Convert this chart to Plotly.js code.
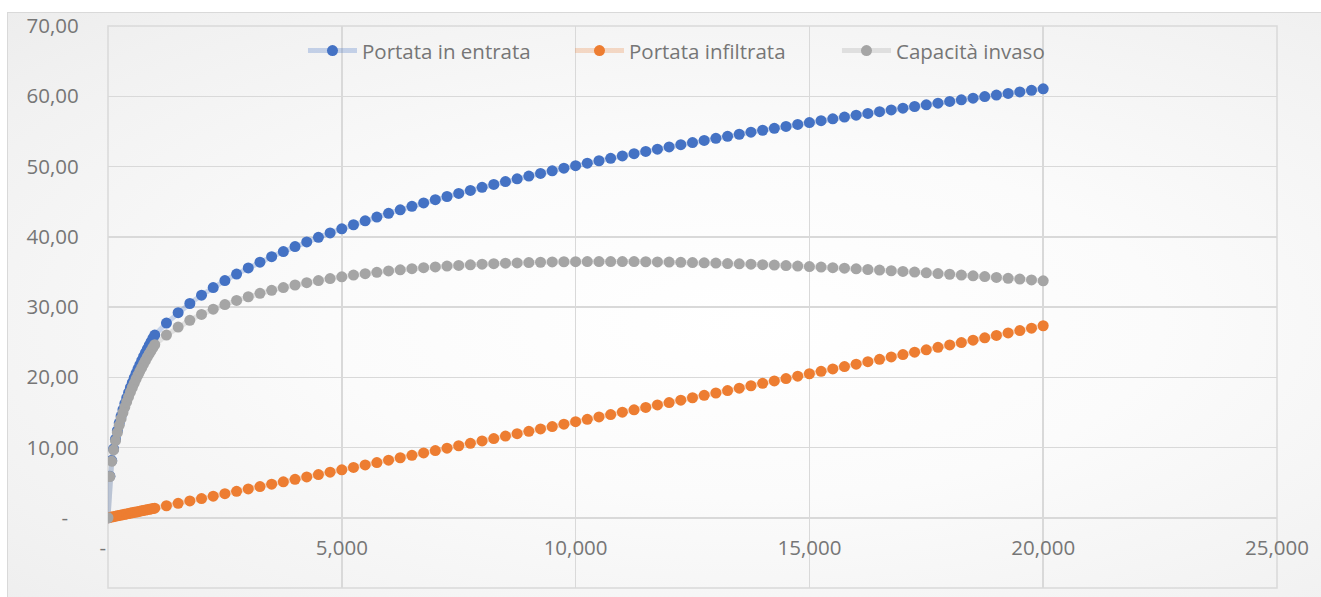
<!DOCTYPE html>
<html>
<head>
<meta charset="utf-8">
<script src="https://cdn.plot.ly/plotly-3.0.1.min.js"></script>
<style>
  html, body { margin: 0; padding: 0; background: #ffffff; overflow: hidden; }
  #frame {
    position: absolute; left: 7px; top: 12px; width: 1340px; height: 620px;
    border: 1.5px solid #d9d9d9;
    background: radial-gradient(ellipse at 55% 50%, #ffffff 0%, #fbfbfb 40%, #f1f1f1 85%, #ededed 100%);
  }
  #chart { position: absolute; left: 0; top: 0; width: 1321px; height: 597px; }
</style>
</head>
<body>
<div id="frame"></div>
<div id="chart"></div>
<script>
// Durata (ascissa): passo fitto fino a 1000, poi passo 250
const durata = [
  0, 40, 80, 120, 160, 200, 240, 280, 320, 360, 400, 440, 480, 520, 560, 600, 640, 680, 720, 760, 800, 840, 880, 920, 960, 1000,
  1250, 1500, 1750, 2000, 2250, 2500, 2750, 3000, 3250, 3500,
  3750, 4000, 4250, 4500, 4750, 5000, 5250, 5500, 5750, 6000,
  6250, 6500, 6750, 7000, 7250, 7500, 7750, 8000, 8250, 8500,
  8750, 9000, 9250, 9500, 9750, 10000, 10250, 10500, 10750, 11000,
  11250, 11500, 11750, 12000, 12250, 12500, 12750, 13000, 13250, 13500,
  13750, 14000, 14250, 14500, 14750, 15000, 15250, 15500, 15750, 16000,
  16250, 16500, 16750, 17000, 17250, 17500, 17750, 18000, 18250, 18500,
  18750, 19000, 19250, 19500, 19750, 20000
];

const portataEntrata = [
  0, 5.92, 8.14, 9.81, 11.19, 12.40, 13.48, 14.48, 15.39, 16.25, 17.06, 17.82, 18.55, 19.25, 19.91, 20.56, 21.17, 21.77, 22.35, 22.92, 23.47, 24.00, 24.52, 25.02, 25.52, 26.00,
  27.71, 29.19, 30.50, 31.68, 32.76, 33.76, 34.69, 35.56, 36.38, 37.16,
  37.89, 38.60, 39.27, 39.92, 40.54, 41.13, 41.71, 42.26, 42.80, 43.33,
  43.83, 44.33, 44.81, 45.27, 45.73, 46.17, 46.60, 47.03, 47.44, 47.85,
  48.24, 48.63, 49.01, 49.39, 49.76, 50.12, 50.47, 50.82, 51.16, 51.50,
  51.83, 52.15, 52.47, 52.79, 53.10, 53.41, 53.71, 54.01, 54.30, 54.59,
  54.88, 55.16, 55.44, 55.71, 55.99, 56.25, 56.52, 56.78, 57.04, 57.30,
  57.55, 57.80, 58.05, 58.30, 58.54, 58.78, 59.02, 59.26, 59.49, 59.72,
  59.95, 60.17, 60.40, 60.62, 60.84, 61.06
];

const portataInfiltrata = [
  0, 0.05, 0.11, 0.16, 0.22, 0.27, 0.33, 0.38, 0.44, 0.49, 0.55, 0.60, 0.66, 0.71, 0.77, 0.82, 0.87, 0.93, 0.98, 1.04, 1.09, 1.15, 1.20, 1.26, 1.31, 1.37,
  1.71, 2.05, 2.39, 2.73, 3.07, 3.42, 3.76, 4.10, 4.44, 4.78,
  5.12, 5.47, 5.81, 6.15, 6.49, 6.83, 7.17, 7.52, 7.86, 8.20,
  8.54, 8.88, 9.22, 9.57, 9.91, 10.25, 10.59, 10.93, 11.27, 11.62,
  11.96, 12.30, 12.64, 12.98, 13.32, 13.67, 14.01, 14.35, 14.69, 15.03,
  15.37, 15.71, 16.06, 16.40, 16.74, 17.08, 17.42, 17.76, 18.11, 18.45,
  18.79, 19.13, 19.47, 19.81, 20.16, 20.50, 20.84, 21.18, 21.52, 21.86,
  22.21, 22.55, 22.89, 23.23, 23.57, 23.91, 24.26, 24.60, 24.94, 25.28,
  25.62, 25.96, 26.31, 26.65, 26.99, 27.33
];

const capacitaInvaso = [
  0, 5.87, 8.03, 9.65, 10.97, 12.13, 13.15, 14.10, 14.95, 15.76, 16.51, 17.22, 17.89, 18.54, 19.14, 19.74, 20.30, 20.84, 21.37, 21.88, 22.38, 22.85, 23.32, 23.76, 24.21, 24.63,
  26.00, 27.14, 28.11, 28.95, 29.69, 30.34, 30.93, 31.46, 31.94, 32.38,
  32.77, 33.13, 33.46, 33.77, 34.05, 34.30, 34.54, 34.74, 34.94, 35.13,
  35.29, 35.45, 35.59, 35.70, 35.82, 35.92, 36.01, 36.10, 36.17, 36.23,
  36.28, 36.33, 36.37, 36.41, 36.44, 36.45, 36.46, 36.47, 36.47, 36.47,
  36.46, 36.44, 36.41, 36.39, 36.36, 36.33, 36.29, 36.25, 36.19, 36.14,
  36.09, 36.03, 35.97, 35.90, 35.83, 35.75, 35.68, 35.60, 35.52, 35.44,
  35.34, 35.25, 35.16, 35.07, 34.97, 34.87, 34.76, 34.66, 34.55, 34.44,
  34.33, 34.21, 34.09, 33.97, 33.85, 33.73
];

const nomiSerie = ['Portata in entrata', 'Portata infiltrata', 'Capacità invaso'];

// Etichette degli assi (formato contabilità)
const NB = '\u00a0';
const yTickVals = [-10, 0, 10, 20, 30, 40, 50, 60, 70];
const yTickText = ['(10,00)', '-' + NB + NB + NB, '10,00' + NB, '20,00' + NB, '30,00' + NB, '40,00' + NB, '50,00' + NB, '60,00' + NB, '70,00' + NB];
const xTickVals = [0, 5000, 10000, 15000, 20000, 25000];
const xTickText = ['-' + NB + NB, '5,000', '10,000', '15,000', '20,000', '25,000'];

const testo = { family: 'Open Sans, sans-serif', size: 20.5, color: '#767676' };

function serie(y, nome, colore, coloreLinea) {
  return {
    x: durata, y: y, name: nome, type: 'scatter', mode: 'lines+markers',
    line: { color: coloreLinea, width: 5 },
    marker: { color: colore, size: 11, line: { width: 0 } },
    hoverinfo: 'skip'
  };
}

const tracce = [
  serie(portataEntrata, nomiSerie[0], '#4472C4', 'rgba(68,114,196,0.28)'),
  serie(portataInfiltrata, nomiSerie[1], '#ED7D31', 'rgba(237,125,49,0.25)'),
  serie(capacitaInvaso, nomiSerie[2], '#A5A5A5', 'rgba(165,165,165,0.28)')
];

const layout = {
  width: 1321, height: 597,
  margin: { l: 108, r: 44, t: 26, b: 9 },
  paper_bgcolor: 'rgba(0,0,0,0)',
  plot_bgcolor: 'rgba(0,0,0,0)',
  font: testo,
  showlegend: true,
  legend: {
    orientation: 'h', x: 0.1668, xanchor: 'left', y: 0.956, yanchor: 'middle',
    bgcolor: 'rgba(0,0,0,0)', font: testo, itemwidth: 49,
    entrywidth: 203, entrywidthmode: 'pixels'
  },
  xaxis: {
    range: [0, 25000], tickmode: 'array', tickvals: xTickVals, ticktext: xTickText,
    showgrid: true, gridcolor: '#d9d9d9', gridwidth: 1.5,
    zeroline: false, showline: false, ticks: '',
    anchor: 'free', position: 0.1246, ticklabelstandoff: 16,
    tickfont: testo, fixedrange: true
  },
  yaxis: {
    range: [-10, 70], tickmode: 'array', tickvals: yTickVals, ticktext: yTickText,
    showgrid: true, gridcolor: '#d9d9d9', gridwidth: 1.5,
    zeroline: false, showline: false, ticks: '', ticklabelstandoff: 23,
    tickfont: testo, fixedrange: true
  },
  shapes: [{
    type: 'rect', xref: 'paper', yref: 'paper', x0: 0, x1: 1, y0: 0, y1: 1,
    line: { color: '#d9d9d9', width: 1.5 }, fillcolor: 'rgba(0,0,0,0)', layer: 'below'
  }]
};

Plotly.newPlot('chart', tracce, layout, { displayModeBar: false, staticPlot: true });
</script>
</body>
</html>
